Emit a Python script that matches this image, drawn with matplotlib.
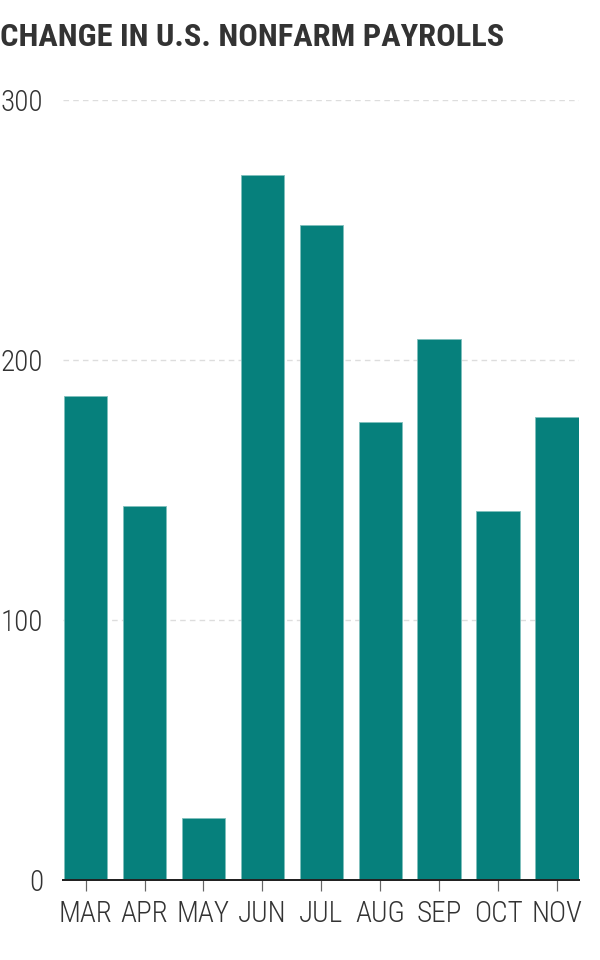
import matplotlib
matplotlib.use("Agg")
import matplotlib.pyplot as plt
from matplotlib import font_manager

months = ["MAR", "APR", "MAY", "JUN", "JUL", "AUG", "SEP", "OCT", "NOV"]
payrolls = [186, 144, 24, 271, 252, 176, 208, 142, 178]
yticks = [0, 100, 200, 300]

available = {f.name for f in font_manager.fontManager.ttflist}
family = "DejaVu Sans"
for cand in ["Roboto Condensed", "Liberation Sans Narrow", "Open Sans Condensed", "Roboto"]:
    if cand in available:
        family = cand
        break
plt.rcParams["font.family"] = [family, "DejaVu Sans"]

PX = 72 / 100  # points per pixel at dpi 100

fig = plt.figure(figsize=(6, 9.6), dpi=100)
ax = fig.add_axes([63.3/600, 80/960, 516/600, 780/960])

x = list(range(len(months)))
ax.bar(x, payrolls, width=0.735, color="#06807C", edgecolor="#7fbfbc", linewidth=0.6, zorder=3)

ax.set_xlim(-0.38, len(months) - 1 + 0.38)
ax.set_ylim(0, 300)
ax.set_yticks(yticks)
ax.set_yticklabels([str(v) for v in yticks], fontweight="light")
ax.set_xticks(x)
ax.set_xticklabels(months, fontweight="light")

ax.grid(axis="y", linestyle=(0, (4, 3)), color="#dddddd", linewidth=1.0, zorder=0)
ax.grid(axis="x", visible=False)
for s in ["top", "right", "left"]:
    ax.spines[s].set_visible(False)
ax.spines["bottom"].set_linewidth(2 * PX)
ax.spines["bottom"].set_color("#222222")
ax.spines["bottom"].set_zorder(4)

ax.tick_params(axis="y", length=0, pad=20 * PX, labelsize=21, labelcolor="#333333")
ax.tick_params(axis="x", length=11 * PX, width=1.2 * PX, color="#666666", pad=9 * PX,
               labelsize=21, labelcolor="#333333")

fig.text(0.0, 1 - 37.5/960, "CHANGE IN U.S. NONFARM PAYROLLS", ha="left", va="center",
         fontsize=23.3, fontweight="bold", color="#333333")

fig.savefig("out.png", dpi=100)
